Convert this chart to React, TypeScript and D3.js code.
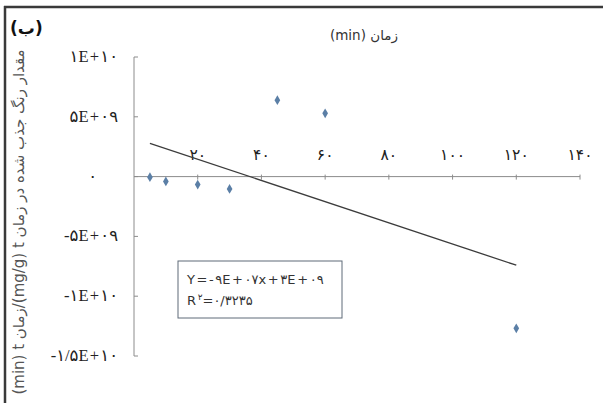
import React from "react";
import * as d3 from "d3";

// Sampled time points (min) and adsorbed dye amount at time t (mg/g)/t (min)
const times = [5, 10, 20, 30, 45, 60, 120];
const values = [-0.05e9, -0.4e9, -0.67e9, -1.03e9, 6.39e9, 5.29e9, -12.69e9];

const xTicks = [20, 40, 60, 80, 100, 120, 140];
const xTickLabels = ["۲۰", "۴۰", "۶۰", "۸۰", "۱۰۰", "۱۲۰", "۱۴۰"];
const yTicks = [1e10, 5e9, 0, -5e9, -1e10, -1.5e10];
const yTickLabels = ["۱E+۱۰", "۵E+۰۹", "۰", "-۵E+۰۹", "-۱E+۱۰", "-۱/۵E+۱۰"];

const equationText = "Y=-۹E+۰۷x+۳E+۰۹";
const r2Text = "=۰/۳۲۳۵";

const W = 603;
const H = 403;

const serifFont = "'Liberation Serif', 'Times New Roman', serif";
const sansFont = "'DejaVu Sans', sans-serif";

// Latin letters and signs in a serif face, Persian digits in a sans face
function MixedLabel({ text }: { text: string }) {
  const parts = text.match(/[A-Za-z+\-/]+|[^A-Za-z+\-/]+/g) ?? [];
  return (
    <>
      {parts.map((p, i) => (
        <tspan key={i} fontFamily={/[A-Za-z+\-/]/.test(p) ? serifFont : sansFont}>
          {p}
        </tspan>
      ))}
    </>
  );
}

export default function App() {
  const x = d3.scaleLinear().domain([0, 140]).range([134, 580]);
  const y = d3.scaleLinear().domain([-1.5e10, 1e10]).range([356, 57]);

  // least-squares trend line over the sampled points
  const mx = d3.mean(times)!;
  const my = d3.mean(values)!;
  const sxy = d3.sum(times, (t, i) => (t - mx) * (values[i] - my));
  const sxx = d3.sum(times, (t) => (t - mx) * (t - mx));
  const slope = sxy / sxx;
  const intercept = my - slope * mx;
  const [x0, x1] = d3.extent(times) as [number, number];
  const trend = d3
    .line<number>()
    .x((t) => x(t))
    .y((t) => y(intercept + slope * t))([x0, x1]);

  const diamond = d3.symbol().type(d3.symbolDiamond).size(28)();

  return (
    <svg
      width={W}
      height={H}
      style={{ position: "absolute", left: 0, top: 0, background: "#fff" }}
    >
      {/* frame */}
      <line x1={4} x2={W} y1={7} y2={7} stroke="#3a3a3a" strokeWidth={2.5} />
      <line x1={5} x2={5} y1={6} y2={H} stroke="#3a3a3a" strokeWidth={2.5} />

      <text x={10} y={34} fontFamily={sansFont} fontWeight="bold" fontSize={17} fill="#111">
        (ب)
      </text>

      {/* axis titles */}
      <text x={364} y={40} textAnchor="middle" fontFamily={sansFont} fontSize={13.5} fill="#333">
        (min) زمان
      </text>
      <text
        transform="translate(24,222) rotate(-90)"
        textAnchor="middle"
        fontFamily={sansFont}
        fontSize={15}
        fill="#555"
      >
        (min) t زمان/(mg/g) t مقدار رنگ جذب شده در زمان
      </text>

      {/* axes */}
      <line x1={x(0)} x2={x(0)} y1={y(1e10)} y2={y(-1.5e10)} stroke="#8c8c8c" strokeWidth={1} />
      <line x1={x(0)} x2={x(140)} y1={y(0)} y2={y(0)} stroke="#8c8c8c" strokeWidth={1} />
      {yTicks.map((v, i) => (
        <g key={`y${i}`}>
          <line x1={x(0)} x2={x(0) + 4} y1={y(v)} y2={y(v)} stroke="#8c8c8c" />
          <text
            x={v === 0 ? 97 : 118}
            y={y(v) + 5}
            textAnchor="end"
            fontSize={16.5}
            letterSpacing={1.2}
            fill="#222"
          >
            <MixedLabel text={yTickLabels[i]} />
          </text>
        </g>
      ))}
      {xTicks.map((v, i) => (
        <g key={`x${i}`}>
          <line x1={x(v)} x2={x(v)} y1={y(0) - 2} y2={y(0) + 3} stroke="#8c8c8c" />
          <text
            x={x(v)}
            y={y(0) - 17}
            textAnchor="middle"
            fontFamily={sansFont}
            fontSize={15.5}
            letterSpacing={1}
            fill="#222"
          >
            {xTickLabels[i]}
          </text>
        </g>
      ))}

      {/* trend line */}
      <path d={trend ?? ""} fill="none" stroke="#3c3c3c" strokeWidth={1.3} />

      {/* data points */}
      {times.map((t, i) => (
        <path
          key={`p${i}`}
          d={diamond ?? ""}
          transform={`translate(${x(t)},${y(values[i])})`}
          fill="#5b7fa6"
        />
      ))}

      {/* equation box */}
      <rect x={178} y={261} width={164} height={57} fill="#fff" stroke="#5f6b78" strokeWidth={1} />
      <text x={187} y={284} fontFamily={sansFont} fontSize={13} letterSpacing={1.6} fill="#333">
        {equationText}
      </text>
      <text x={187} y={305} fontFamily={sansFont} fontSize={13} letterSpacing={1.6} fill="#333">
        R<tspan dy={-5} fontSize={9}>۲</tspan>
        <tspan dy={5}>{r2Text}</tspan>
      </text>
    </svg>
  );
}
